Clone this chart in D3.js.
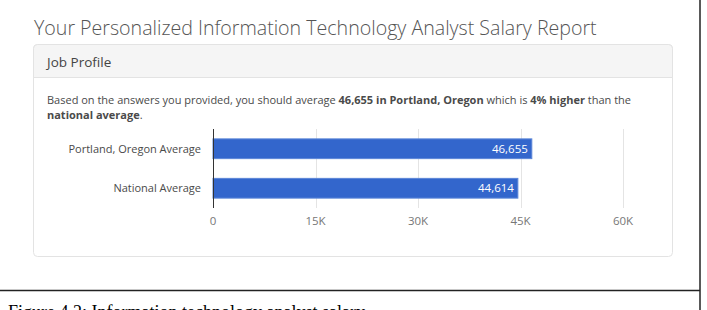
<!DOCTYPE html>
<html>
<head>
<meta charset="utf-8">
<script src="https://cdn.jsdelivr.net/npm/d3@7"></script>
<style>
  html, body { margin: 0; padding: 0; background: #fff; }
  svg { display: block; font-family: "Open Sans", sans-serif; }
</style>
</head>
<body>
<div id="chart"></div>
<script>
// Chart values
const categories = ["Portland, Oregon Average", "National Average"];
const salaries = [46655, 44614];
const tickValues = [0, 15000, 30000, 45000, 60000];
const tickLabels = ["0", "15K", "30K", "45K", "60K"];

const W = 707, H = 310;
const svg = d3.select("#chart").append("svg")
    .attr("width", W).attr("height", H);

// Page title
svg.append("text")
    .attr("x", 34).attr("y", 34.5)
    .style("font-size", "19.6px")
    .style("font-weight", 300)
    .style("fill", "#555")
    .text("Your Personalized Information Technology Analyst Salary Report");

// Panel with header
const panel = {x: 33.5, y: 44.5, w: 639, h: 212};
svg.append("rect")
    .attr("x", panel.x).attr("y", panel.y)
    .attr("width", panel.w).attr("height", panel.h)
    .attr("rx", 4)
    .attr("fill", "#fff").attr("stroke", "#e3e3e3");
svg.append("path")
    .attr("d", `M${panel.x},77.5 V${panel.y + 4} q0,-4 4,-4 H${panel.x + panel.w - 4} q4,0 4,4 V77.5 Z`)
    .attr("fill", "#f5f5f5").attr("stroke", "#e3e3e3");

svg.append("text")
    .attr("x", 47).attr("y", 66.5)
    .style("font-size", "13.5px")
    .style("fill", "#444")
    .text("Job Profile");

// Summary sentence
const line1 = svg.append("text")
    .attr("x", 47).attr("y", 104)
    .style("font-size", "11px")
    .style("fill", "#4a4a4a");
[["Based on the answers you provided, you should average ", 400],
 ["46,655 in Portland, Oregon", 700],
 [" which is ", 400],
 ["4% higher", 700],
 [" than the", 400]].forEach(([t, w]) => {
    line1.append("tspan").style("font-weight", w).text(t);
});
const line2 = svg.append("text")
    .attr("x", 47).attr("y", 119)
    .style("font-size", "11px")
    .style("fill", "#4a4a4a");
line2.append("tspan").style("font-weight", 700).text("national average");
line2.append("tspan").text(".");

// Bar chart
const x = d3.scaleLinear().domain([0, 60000]).range([213, 623]);
const y = d3.scaleBand().domain(categories).range([129, 208]).paddingInner(0.5).paddingOuter(0.25);

const g = svg.append("g");

g.selectAll(".grid")
    .data(tickValues.slice(1))
    .join("line")
    .attr("class", "grid")
    .attr("x1", d => Math.round(x(d)) + 0.5).attr("x2", d => Math.round(x(d)) + 0.5)
    .attr("y1", 129).attr("y2", 208)
    .attr("stroke", "#e4e4e4");

g.selectAll(".bar")
    .data(salaries)
    .join("rect")
    .attr("class", "bar")
    .attr("x", x(0))
    .attr("y", (d, i) => y(categories[i]))
    .attr("width", d => x(d) - x(0))
    .attr("height", y.bandwidth())
    .attr("fill", "#3366cc")
    .attr("stroke", "#5c86d8")
    .attr("stroke-width", 1);

g.selectAll(".val")
    .data(salaries)
    .join("text")
    .attr("class", "val")
    .attr("x", d => x(d) - 4)
    .attr("y", (d, i) => y(categories[i]) + y.bandwidth() / 2)
    .attr("dy", "0.35em")
    .attr("text-anchor", "end")
    .style("font-size", "11.5px")
    .style("fill", "#fff")
    .text(d => d3.format(",")(d));

g.selectAll(".cat")
    .data(categories)
    .join("text")
    .attr("class", "cat")
    .attr("x", 201)
    .attr("y", d => y(d) + y.bandwidth() / 2)
    .attr("dy", "0.35em")
    .attr("text-anchor", "end")
    .style("font-size", "11px")
    .style("fill", "#4a4a4a")
    .text(d => d);

// Baseline axis
g.append("line")
    .attr("x1", 213.5).attr("x2", 213.5)
    .attr("y1", 129).attr("y2", 208)
    .attr("stroke", "#333");

g.selectAll(".tick")
    .data(tickValues)
    .join("text")
    .attr("class", "tick")
    .attr("x", d => x(d))
    .attr("y", 225)
    .attr("text-anchor", "middle")
    .style("font-size", "11.5px")
    .style("fill", "#777")
    .text((d, i) => tickLabels[i]);

// Document frame lines and caption
svg.append("line")
    .attr("x1", 700).attr("x2", 700).attr("y1", 0).attr("y2", H)
    .attr("stroke", "#222").attr("stroke-width", 1.5);
svg.append("line")
    .attr("x1", 0).attr("x2", 700).attr("y1", 290.5).attr("y2", 290.5)
    .attr("stroke", "#222").attr("stroke-width", 1.5);
svg.append("text")
    .attr("x", 8).attr("y", 318)
    .style("font-family", "'Liberation Serif', 'Times New Roman', serif")
    .style("font-size", "18px")
    .style("fill", "#000")
    .text("Figure 4.2: Information technology analyst salary");
</script>
</body>
</html>
